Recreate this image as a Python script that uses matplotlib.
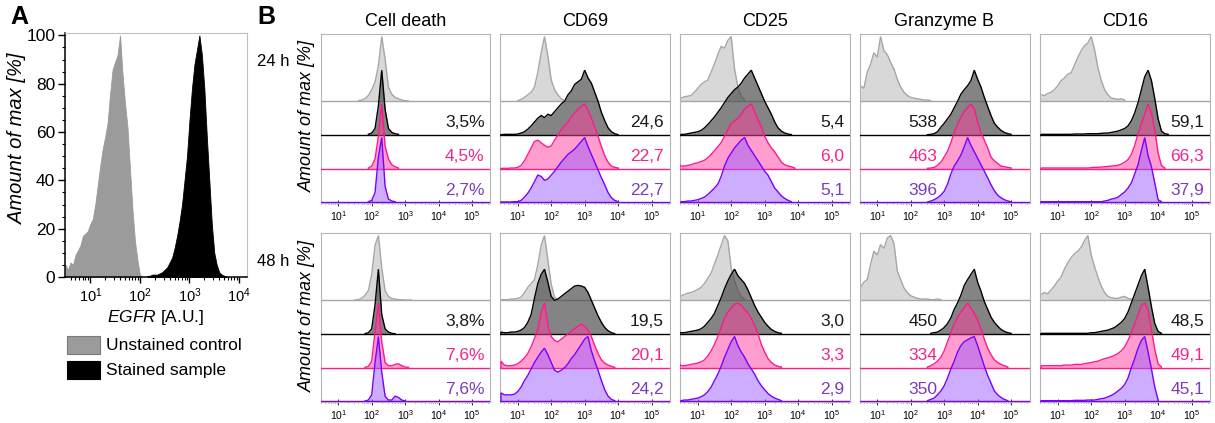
import numpy as np
import matplotlib
matplotlib.use("Agg")
import matplotlib.pyplot as plt
from matplotlib.patches import Rectangle
from matplotlib.ticker import FixedLocator, MultipleLocator, NullFormatter

plt.rcParams['font.family'] = ['Liberation Sans', 'DejaVu Sans']
plt.rcParams['mathtext.fontset'] = 'custom'
plt.rcParams['mathtext.rm'] = 'Liberation Sans'
plt.rcParams['mathtext.it'] = 'Liberation Sans:italic'

# ---------------------------------------------------------------- data
# Panel A: EGFR histograms (% of max), log10 bins of width 0.05
egfr_bin = 0.05
egfr_unstained = (0.50, [5, 3, 6, 5, 9, 11, 13, 17, 18, 19, 22, 24, 30, 38, 46, 53, 58, 64, 76, 86,
                         89, 92, 100, 84, 72, 62, 45, 28, 15, 7, 1, 0])
egfr_stained = (2.15, [0.5, 0.5, 1, 1, 1, 1.5, 2, 3, 4, 6, 8, 12, 17, 23, 30, 40, 50, 65, 78, 88,
                       94, 100, 92, 78, 58, 40, 22, 10, 5, 2, 1, 0.5, 0])
legend_labels = ["Unstained control", "Stained sample"]

# Panel B: overlaid histograms (% of max), log10 bins of width 0.1
# each entry: (first bin in log10 units, heights)
markers = ["Cell death", "CD69", "CD25", "Granzyme B", "CD16"]
timepoints = ["24 h", "48 h"]

celldeath_24h_grey = (1.6, [1, 2, 4, 9, 18, 30, 55, 100, 65, 22, 11, 6, 4, 2, 1, 0.5])
celldeath_24h_black = (1.9, [1, 3, 10, 45, 100, 40, 10, 4, 2, 1])
celldeath_24h_pink = (1.9, [1, 4, 15, 50, 100, 35, 15, 6, 3, 1])
celldeath_24h_violet = (1.9, [1, 3, 15, 70, 100, 25, 5, 2, 1])

celldeath_48h_grey = (1.5, [0.5, 1, 3, 8, 15, 40, 85, 100, 50, 15, 6, 3, 2, 1, 1, 0.5, 0.5, 0.5])
celldeath_48h_black = (1.8, [0.5, 2, 8, 45, 100, 30, 8, 3, 1, 0.5])
celldeath_48h_pink = (1.8, [0.5, 2, 10, 55, 100, 40, 8, 3, 3, 5, 6, 3, 1, 0.5])
celldeath_48h_violet = (1.8, [0.5, 2, 10, 60, 100, 45, 8, 2, 2, 8, 6, 2, 0.5])

cd69_24h_grey = (1.0, [1, 3, 6, 10, 14, 22, 45, 75, 100, 70, 33, 18, 10, 4, 1])
cd69_24h_black = (0.5, [0.5, 1, 1, 1, 1, 1.5, 3, 5, 9, 14, 20, 26, 30, 27, 32, 30, 36, 42, 48, 52,
                        62, 68, 78, 82, 86, 100, 88, 80, 66, 52, 35, 22, 11, 5, 2, 0.5])
cd69_24h_pink = (0.5, [0.5, 0.5, 0.5, 1, 1, 2, 5, 12, 22, 32, 42, 44, 40, 36, 33, 35, 44, 52, 60, 66,
                       72, 80, 86, 92, 96, 100, 90, 78, 64, 50, 34, 20, 10, 4, 2, 1])
cd69_24h_violet = (0.5, [0.5, 0.5, 0.5, 0.5, 1, 1, 3, 8, 14, 22, 32, 42, 40, 34, 36, 42, 48, 55, 62, 68,
                         74, 78, 82, 88, 94, 100, 86, 74, 62, 50, 38, 27, 15, 7, 3, 1])

cd69_48h_grey = (0.5, [1, 1, 1, 2, 2, 3, 5, 12, 20, 26, 32, 55, 85, 100, 62, 25, 5, 1])
cd69_48h_black = (0.5, [3, 2, 2, 3, 3, 4, 6, 10, 18, 30, 55, 78, 92, 100, 80, 58, 52, 54, 58, 62,
                        66, 70, 74, 75, 74, 72, 64, 52, 40, 28, 18, 10, 5, 2, 0.5])
cd69_48h_pink = (0.5, [10, 4, 3, 3, 4, 6, 10, 15, 22, 32, 45, 60, 85, 100, 65, 48, 42, 40, 44, 48,
                       52, 56, 60, 64, 67, 64, 58, 48, 34, 22, 12, 7, 4, 2, 0.5])
cd69_48h_violet = (0.5, [13, 10, 10, 10, 11, 15, 22, 32, 40, 50, 60, 68, 76, 82, 72, 60, 48, 45, 48, 52,
                         58, 66, 72, 80, 88, 96, 100, 78, 62, 48, 32, 18, 8, 3, 1])

cd25_24h_grey = (0.4, [5, 5, 7, 8, 9, 14, 20, 26, 30, 33, 45, 58, 72, 85, 82, 94, 100, 50, 22, 8, 2])
cd25_24h_black = (0.5, [1, 1, 2, 3, 4, 5, 7, 11, 16, 22, 28, 35, 42, 50, 58, 64, 70, 74, 80, 88,
                        94, 100, 88, 76, 64, 52, 42, 32, 20, 11, 6, 3, 1.5, 0.5])
cd25_24h_pink = (0.4, [8, 4, 4, 5, 6, 8, 9, 11, 13, 17, 22, 28, 34, 40, 50, 60, 70, 74, 78, 84,
                       92, 96, 100, 88, 76, 64, 50, 40, 32, 26, 18, 10, 6, 4, 3, 1])
cd25_24h_violet = (0.5, [1, 1, 2, 2, 3, 4, 6, 8, 12, 17, 22, 28, 40, 56, 68, 76, 84, 90, 96, 100,
                         88, 80, 72, 64, 56, 48, 42, 32, 22, 16, 10, 6, 3, 1])

cd25_48h_grey = (0.4, [7, 7, 9, 11, 12, 14, 17, 20, 26, 34, 42, 56, 70, 85, 100, 92, 50, 30, 15, 5, 2])
cd25_48h_black = (0.4, [3, 2, 2, 3, 4, 5, 6, 8, 12, 18, 24, 32, 44, 56, 70, 82, 92, 100, 90, 84,
                        78, 68, 56, 44, 34, 26, 18, 12, 7, 4, 2, 1])
cd25_48h_pink = (0.4, [10, 3, 3, 4, 5, 6, 7, 9, 12, 18, 26, 36, 48, 62, 76, 86, 92, 98, 100, 96,
                       90, 84, 76, 66, 52, 36, 24, 14, 8, 4, 2, 1])
cd25_48h_violet = (0.5, [1, 2, 2, 3, 4, 5, 7, 10, 15, 22, 32, 42, 54, 68, 80, 92, 100, 86, 76, 68,
                         58, 50, 42, 32, 24, 18, 12, 8, 5, 3, 1])

gzmb_24h_grey = (0.4, [16, 24, 20, 45, 57, 75, 68, 100, 78, 72, 60, 50, 34, 22, 14, 9, 6, 5, 4, 3,
                       2, 2, 1])
gzmb_24h_black = (2.5, [0.5, 1, 2, 5, 12, 18, 25, 32, 42, 52, 63, 70, 76, 84, 100, 86, 74, 58, 44, 30,
                        18, 12, 7, 4, 2, 1])
gzmb_24h_pink = (2.5, [0.5, 1, 2, 5, 10, 18, 27, 40, 56, 68, 80, 88, 94, 100, 92, 72, 56, 44, 32, 18,
                       12, 8, 4, 3, 2, 1])
gzmb_24h_violet = (2.5, [0.5, 2, 4, 7, 11, 17, 28, 44, 56, 64, 73, 86, 100, 88, 78, 68, 58, 48, 38, 27,
                         18, 11, 7, 4, 2, 1])

gzmb_48h_grey = (0.4, [25, 20, 28, 32, 55, 76, 70, 86, 80, 96, 100, 88, 45, 32, 19, 12, 7, 5, 3, 2,
                       2, 2, 1, 1, 2, 1])
gzmb_48h_black = (2.6, [1, 2, 3, 6, 10, 16, 25, 38, 48, 60, 75, 84, 92, 100, 80, 66, 50, 38, 26, 18,
                        12, 7, 4, 2, 1])
gzmb_48h_pink = (2.5, [1, 3, 6, 10, 16, 26, 40, 54, 68, 78, 86, 92, 100, 92, 84, 74, 60, 44, 30, 20,
                       12, 8, 5, 3, 1])
gzmb_48h_violet = (2.5, [1, 3, 5, 10, 16, 24, 36, 50, 62, 76, 86, 92, 95, 98, 100, 86, 70, 54, 40, 28,
                         16, 10, 6, 3, 1])

cd16_24h_grey = (0.4, [8, 10, 9, 12, 14, 18, 24, 32, 36, 42, 44, 56, 68, 78, 86, 90, 100, 80, 52, 32,
                       18, 10, 5, 4, 3, 4, 2])
cd16_24h_black = (0.5, [1, 1, 1, 1, 1, 1, 1, 1, 1, 1, 1.5, 1.5, 1.5, 1.5, 2, 2, 2, 2, 2.5, 3,
                        3, 4, 5, 6, 8, 10, 14, 22, 34, 50, 70, 90, 100, 84, 56, 25, 6, 2, 1])
cd16_24h_pink = (0.5, [1, 1, 1, 1, 1, 1, 1, 1, 1, 1, 1, 1, 1, 1, 1, 1.5, 2, 2, 2.5, 3,
                       3.5, 4, 4.5, 5, 7, 10, 14, 22, 36, 54, 70, 84, 100, 86, 60, 24, 5, 1])
cd16_24h_violet = (0.5, [1, 1, 1, 1, 1, 1, 1, 1, 1, 1, 1, 1, 1, 1, 1, 1, 1, 1, 1, 2,
                         3, 5, 6, 8, 12, 16, 22, 30, 44, 58, 80, 100, 72, 55, 30, 4, 1])

cd16_48h_grey = (0.4, [8, 9, 12, 10, 16, 22, 30, 36, 48, 58, 66, 72, 76, 82, 92, 100, 70, 52, 36, 22,
                       12, 6, 4, 3, 3, 5, 6, 3, 2])
cd16_48h_black = (0.5, [1, 1, 1, 1, 1, 1, 1, 1, 1, 1, 1, 1, 1, 1, 1, 2, 2, 3, 4, 5,
                        6, 8, 10, 14, 18, 24, 34, 48, 62, 76, 90, 100, 72, 42, 16, 4, 1])
cd16_48h_pink = (0.5, [3, 3, 3, 3, 3, 3, 3, 4, 4, 4, 5, 5, 5, 6, 7, 8, 9, 10, 12, 14,
                       15, 17, 19, 22, 26, 32, 42, 54, 68, 82, 96, 100, 88, 58, 28, 6, 1])
cd16_48h_violet = (0.5, [1, 1, 1, 1, 1, 1, 1, 1, 1, 1, 1.5, 1.5, 1.5, 1.5, 2, 2, 2, 3, 4, 5,
                         7, 9, 12, 16, 20, 26, 36, 52, 66, 82, 94, 100, 76, 50, 22, 2])

panels_24h = [
    [celldeath_24h_grey, celldeath_24h_black, celldeath_24h_pink, celldeath_24h_violet],
    [cd69_24h_grey, cd69_24h_black, cd69_24h_pink, cd69_24h_violet],
    [cd25_24h_grey, cd25_24h_black, cd25_24h_pink, cd25_24h_violet],
    [gzmb_24h_grey, gzmb_24h_black, gzmb_24h_pink, gzmb_24h_violet],
    [cd16_24h_grey, cd16_24h_black, cd16_24h_pink, cd16_24h_violet],
]
panels_48h = [
    [celldeath_48h_grey, celldeath_48h_black, celldeath_48h_pink, celldeath_48h_violet],
    [cd69_48h_grey, cd69_48h_black, cd69_48h_pink, cd69_48h_violet],
    [cd25_48h_grey, cd25_48h_black, cd25_48h_pink, cd25_48h_violet],
    [gzmb_48h_grey, gzmb_48h_black, gzmb_48h_pink, gzmb_48h_violet],
    [cd16_48h_grey, cd16_48h_black, cd16_48h_pink, cd16_48h_violet],
]
values_24h = [["3,5%", "4,5%", "2,7%"], ["24,6", "22,7", "22,7"], ["5,4", "6,0", "5,1"],
              ["538", "463", "396"], ["59,1", "66,3", "37,9"]]
values_48h = [["3,8%", "7,6%", "7,6%"], ["19,5", "20,1", "24,2"], ["3,0", "3,3", "2,9"],
              ["450", "334", "350"], ["48,5", "49,1", "45,1"]]

# ---------------------------------------------------------------- styling
B_BIN = 0.1
B_XLIM = (10 ** 0.47, 10 ** 5.55)
A_XLIM = (10 ** 0.49, 10 ** 4.16)
STEP = 0.2          # vertical offset between stacked histograms
SCALE = 0.385       # height of a 100 % peak
# (line colour, fill colour, fill alpha, text colour)
STYLES = [
    ("#a6a6a6", "#d4d4d4", 0.9, None),
    ("#000000", "#4a4a4a", 0.68, "#1a1a1a"),
    ("#ff1a8c", "#ff3d9e", 0.5, "#f2258c"),
    ("#7a00ff", "#9d5cff", 0.5, "#7c3cbc"),
]
FRAME = "#b5b5b5"

W, H = 1215, 423
fig = plt.figure(figsize=(W / 100, H / 100), dpi=100)


def rect(left, top, right, bottom):
    return [left / W, 1 - bottom / H, (right - left) / W, (bottom - top) / H]


def decade_labels(ax, exps, size):
    ax.xaxis.set_major_locator(FixedLocator([10.0 ** e for e in exps]))
    ax.set_xticklabels([r"$\mathregular{10^{%d}}$" % e for e in exps], fontsize=size)
    minors = [m * 10.0 ** e for e in range(0, 6) for m in range(2, 10)]
    ax.xaxis.set_minor_locator(FixedLocator(minors))
    ax.xaxis.set_minor_formatter(NullFormatter())


# ---------------------------------------------------------------- panel A
axA = fig.add_axes(rect(65, 33, 247, 277))
for curve, color in [(egfr_unstained, "#9b9b9b"), (egfr_stained, "#000000")]:
    start, vals = curve
    x = 10 ** (start + egfr_bin * np.arange(len(vals)))
    axA.fill_between(x, 0, vals, color=color, lw=0.6, edgecolor=color)
axA.set_xscale("log")
axA.set_xlim(*A_XLIM)
axA.set_ylim(0, 101)
axA.yaxis.set_major_locator(MultipleLocator(20))
axA.yaxis.set_minor_locator(MultipleLocator(5))
decade_labels(axA, [1, 2, 3, 4], 10.5)
axA.tick_params(axis="y", which="major", labelsize=12.5, length=5, width=1, pad=2)
axA.tick_params(axis="y", which="minor", length=2.5, width=0.8)
axA.tick_params(axis="x", which="major", length=4, width=1, pad=3)
axA.tick_params(axis="x", which="minor", length=2.5, width=0.8)
for side in ("top", "right"):
    axA.spines[side].set_color("#c0c0c0")
    axA.spines[side].set_linewidth(0.8)
for side in ("left", "bottom"):
    axA.spines[side].set_linewidth(1.1)
axA.set_xlabel(r"$\mathit{EGFR}$ [A.U.]", fontsize=12.5, labelpad=2)
fig.text(18 / W, 1 - 139 / H, "Amount of max [%]", rotation=90, fontsize=14.5,
         style="italic", ha="center", va="center")
fig.text(10 / W, 1 - 17 / H, "A", fontsize=18, fontweight="bold", ha="left", va="center")

# legend
for i, (label, color) in enumerate(zip(legend_labels, ["#9b9b9b", "#000000"])):
    yc = 345 + 25 * i
    fig.add_artist(Rectangle((67 / W, 1 - (yc + 9) / H), 33 / W, 18 / H,
                             transform=fig.transFigure, facecolor=color,
                             edgecolor="#7a7a7a" if i == 0 else "#000000", lw=0.8))
    fig.text(106 / W, 1 - yc / H, label, fontsize=12.5, ha="left", va="center")

# ---------------------------------------------------------------- panel B
col_left = [320.5, 500, 680, 859.5, 1040]
col_width = 170
row_top = [34, 233]
row_height = 169

fig.text(257 / W, 1 - 17 / H, "B", fontsize=18, fontweight="bold", ha="left", va="center")

for r, (panels, values, tp) in enumerate(zip([panels_24h, panels_48h],
                                             [values_24h, values_48h], timepoints)):
    top = row_top[r]
    fig.text(273 / W, 1 - (top + 28) / H, tp, fontsize=12, ha="center", va="center")
    fig.text(307 / W, 1 - (top + row_height / 2 - 2) / H, "Amount of max [%]", rotation=90,
             fontsize=13, style="italic", ha="center", va="center")
    for c, (curves, vals_txt) in enumerate(zip(panels, values)):
        left = col_left[c]
        ax = fig.add_axes(rect(left, top, left + col_width, top + row_height))
        ax.set_xscale("log")
        ax.set_xlim(*B_XLIM)
        ax.set_ylim(-0.004, 1)
        for k, (curve, (lc, fc, fa, _)) in enumerate(zip(curves, STYLES)):
            offset = STEP * (3 - k)
            start, vals = curve
            x = 10 ** (start + B_BIN * np.arange(len(vals)))
            y = offset + SCALE * np.asarray(vals, dtype=float) / 100
            xs = np.concatenate([[x[0]], x, [x[-1]]])
            ys = np.concatenate([[offset], y, [offset]])
            ax.fill_between(xs, offset, ys, color=fc, alpha=fa, lw=0, zorder=2 + k)
            ax.axhline(offset, color=lc, lw=1.0, zorder=2.5 + k)
            ax.plot(xs, ys, color=lc, lw=1.0, zorder=2.5 + k, solid_joinstyle="miter")
        # statistics next to each stained sample
        tx = 0.46 if markers[c] == "Granzyme B" else 0.965
        for k, txt in enumerate(vals_txt):
            offset = STEP * (2 - k)
            ax.text(tx, offset + 0.075, txt, transform=ax.transAxes,
                    ha="right", va="center", fontsize=12.5, color=STYLES[k + 1][3], zorder=10)
        ax.set_yticks([])
        decade_labels(ax, [1, 2, 3, 4, 5], 7.5)
        ax.tick_params(axis="x", which="major", direction="inout", length=4, width=0.7,
                       color="#333333", pad=2.5)
        ax.tick_params(axis="x", which="minor", direction="inout", length=2, width=0.6,
                       color="#555555")
        for s in ax.spines.values():
            s.set_color(FRAME)
            s.set_linewidth(0.8)
        if r == 0:
            ax.set_title(markers[c], fontsize=13, pad=6)

fig.savefig("out.png", dpi=100)
